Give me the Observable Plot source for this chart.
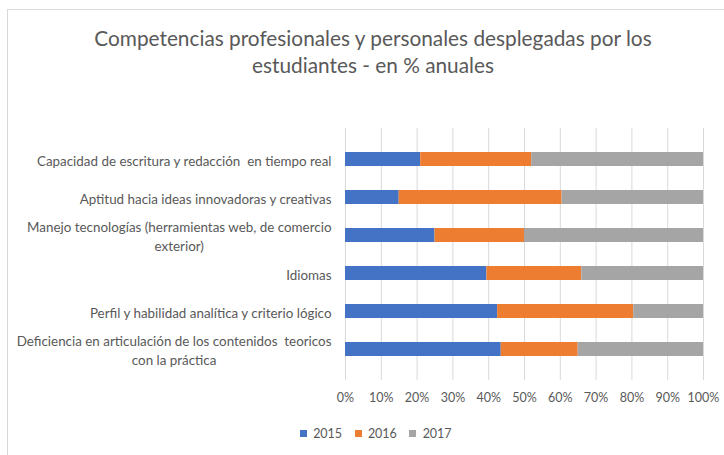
<!DOCTYPE html>
<html>
<head>
<meta charset="utf-8">
<script src="https://cdn.jsdelivr.net/npm/d3@7"></script>
<script src="https://cdn.jsdelivr.net/npm/@observablehq/plot@0.6"></script>
<style>
  body { margin: 0; background: #fff; }
  #wrap { position: relative; width: 724px; height: 455px; overflow: hidden; font-family: Lato, "Open Sans", sans-serif; }
  #border { position: absolute; left: 7px; top: 9px; width: 740px; height: 480px; border: 1px solid #d9d9d9; box-sizing: border-box; }
  #title { position: absolute; left: 8px; width: 730px; top: 24px; text-align: center; font-size: 20.8px; line-height: 27px; color: #595959; }
  #chart { position: absolute; left: 0; top: 0; }
  #legend { position: absolute; left: 0; width: 764px; top: 417px; display: flex; justify-content: center; }
  svg text { white-space: pre; }
</style>
</head>
<body>
<div id="wrap">
  <div id="border"></div>
  <div id="title">Competencias profesionales y personales desplegadas por los<br>estudiantes - en % anuales</div>
  <div id="chart"></div>
  <div id="legend"></div>
</div>
<script>
const categories = [
  "Capacidad de escritura y redacción  en tiempo real",
  "Aptitud hacia ideas innovadoras y creativas",
  "Manejo tecnologías (herramientas web, de comercio\nexterior)",
  "Idiomas",
  "Perfil y habilidad analítica y criterio lógico",
  "Deficiencia en articulación de los contenidos  teoricos\ncon la práctica"
];
const years = ["2015", "2016", "2017"];
const v2015 = [21, 15, 25, 39.5, 42.5, 43.5];
const v2016 = [31, 45.5, 25, 26.5, 38, 21.5];
const v2017 = [48, 39.5, 50, 34, 19.5, 35];
const xTicks = [0, 10, 20, 30, 40, 50, 60, 70, 80, 90, 100];
const colors = ["#4472C4", "#ED7D31", "#A5A5A5"];

const series = [v2015, v2016, v2017];
const rows = [];
categories.forEach((c, i) => {
  years.forEach((y, j) => rows.push({cat: c, year: y, value: series[j][i]}));
});

const chart = Plot.plot({
  width: 724,
  height: 455,
  marginLeft: 345,
  marginRight: 21,
  marginTop: 128,
  marginBottom: 75,
  style: {fontFamily: "Lato, 'Open Sans', sans-serif", background: "transparent", overflow: "visible"},
  x: {domain: [0, 100]},
  y: {domain: categories, padding: 0.62},
  color: {domain: years, range: colors},
  marks: [
    Plot.gridX(xTicks, {stroke: "#d9d9d9", strokeOpacity: 1, strokeWidth: 1}),
    Plot.barX(rows, {y: "cat", x: "value", fill: "year", inset: 0}),
    Plot.axisX(xTicks, {tickSize: 0, tickPadding: 13, tickFormat: d => d + "%", fontSize: 12.5, fill: "#595959", label: null}),
    Plot.axisY({tickSize: 0, tickPadding: 14, fontSize: 13.4, fill: "#595959", label: null, lineHeight: 1.42})
  ]
});
document.getElementById("chart").appendChild(chart);

// center the lines of multi-line category labels, as in the original chart
chart.querySelectorAll("text").forEach(t => {
  const spans = t.querySelectorAll("tspan");
  if (spans.length > 1) {
    const widths = Array.from(spans, s => s.getComputedTextLength());
    const maxW = Math.max(...widths);
    spans.forEach(s => { s.setAttribute("text-anchor", "middle"); s.setAttribute("x", -maxW / 2); });
  }
});

const legend = Plot.legend({
  color: {domain: years, range: colors},
  swatchSize: 7,
  style: {fontFamily: "Lato, 'Open Sans', sans-serif", fontSize: "12.5px", color: "#595959"}
});
document.getElementById("legend").appendChild(legend);
</script>
</body>
</html>
